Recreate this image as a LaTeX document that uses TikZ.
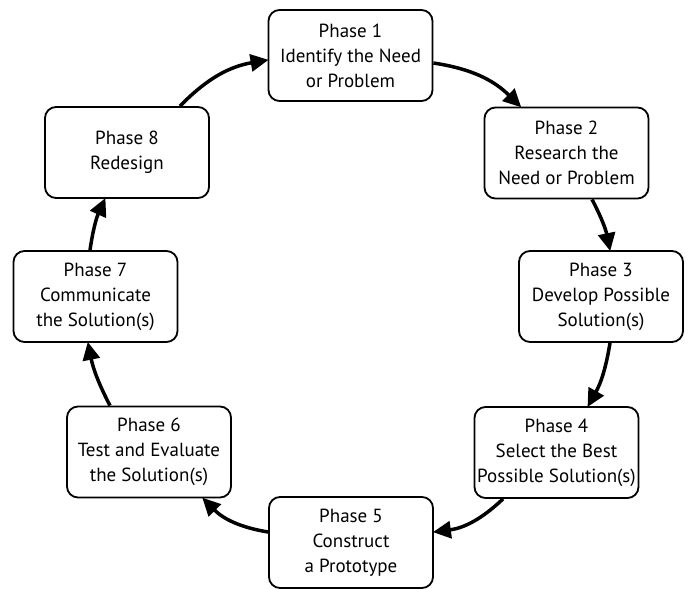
\documentclass[tikz,border=0pt]{standalone}
\usepackage{fontspec}
\setmainfont{PT Sans}
\usetikzlibrary{arrows.meta}
\begin{document}
\begin{tikzpicture}[x=1pt,y=-1pt,
  phasebox/.style={draw, line width=1.8pt, rounded corners=11pt, fill=white,
    minimum width=164pt, minimum height=91pt, inner sep=0pt, align=center,
    font=\fontsize{19}{25}\selectfont},
  flow/.style={line width=3.5pt, -{Triangle[length=18pt,width=17pt]}, bend left=18, shorten >=-1pt}]
\useasboundingbox (0,0) rectangle (691,589);
\node[phasebox] (p1) at (350.5,55.5) {Phase 1\\Identify the Need\\or Problem};
\node[phasebox] (p2) at (566.5,153) {Phase 2\\Research the\\Need or Problem};
\node[phasebox] (p3) at (601,296.5) {Phase 3\\Develop Possible\\Solution(s)};
\node[phasebox] (p4) at (556.5,452.5) {Phase 4\\Select the Best\\Possible Solution(s)};
\node[phasebox] (p5) at (351,542.5) {Phase 5\\Construct\\a Prototype};
\node[phasebox] (p6) at (149,452) {Phase 6\\Test and Evaluate\\the Solution(s)};
\node[phasebox] (p7) at (95.5,296.5) {Phase 7\\Communicate\\the Solution(s)};
\node[phasebox] (p8) at (127,152.5) {Phase 8\\Redesign};
\draw[flow] ([yshift=-7.5pt]p1.east) to ([xshift=-46pt]p2.north);
\draw[flow, bend left=8] ([xshift=25.5pt]p2.south) to ([xshift=9pt]p3.north);
\draw[flow, bend left=10] ([xshift=9pt]p3.south) to ([xshift=31.5pt]p4.north);
\draw[flow] ([xshift=-53.5pt]p4.south) to ([yshift=10.5pt]p5.east);
\draw[flow] ([yshift=10.5pt]p5.west) to ([xshift=54pt]p6.south);
\draw[flow, bend left=8] ([xshift=-39pt]p6.north) to ([xshift=-7.5pt]p7.south);
\draw[flow, bend left=8] ([xshift=-5.5pt]p7.north) to ([xshift=-22pt]p8.south);
\draw[flow] ([xshift=53pt]p8.north) to ([yshift=-4.5pt]p1.west);
\end{tikzpicture}
\end{document}
